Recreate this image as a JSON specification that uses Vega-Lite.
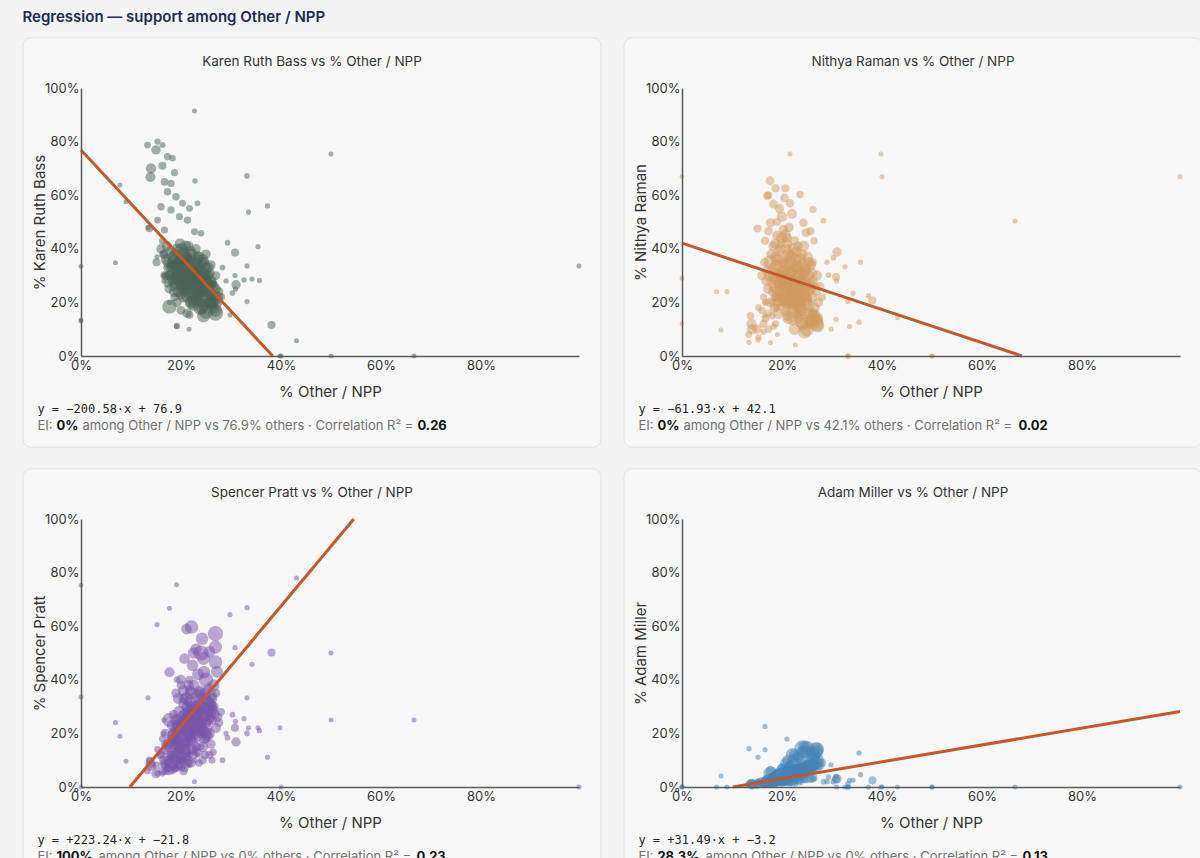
{
  "$schema": "https://vega.github.io/schema/vega-lite/v6.json",
  "background": "#f4f4f4",
  "padding": {"left": 22, "top": 10, "right": 0, "bottom": 0},
  "title": {"text": "Regression — support among Other / NPP", "anchor": "start", "fontSize": 15, "fontWeight": 600, "color": "#1f2b4d", "offset": 12},
  "datasets": {
    "precincts": [
      {"x":0.133,"n":120,"b":0.787,"r":0.08,"p":0.06,"m":0.01},
      {"x":0.153,"n":90,"b":0.80,"r":0.07,"p":0.05,"m":0.008},
      {"x":0.163,"n":80,"b":0.787,"r":0.09,"p":0.05,"m":0.01},
      {"x":0.15,"n":300,"b":0.769,"r":0.1,"p":0.05,"m":0.01},
      {"x":0.173,"n":150,"b":0.744,"r":0.1,"p":0.07,"m":0.012},
      {"x":0.183,"n":110,"b":0.738,"r":0.11,"p":0.06,"m":0.01},
      {"x":0.14,"n":380,"b":0.70,"r":0.1,"p":0.08,"m":0.01},
      {"x":0.139,"n":360,"b":0.668,"r":0.12,"p":0.09,"m":0.012},
      {"x":0.163,"n":200,"b":0.71,"r":0.12,"p":0.06,"m":0.01},
      {"x":0.167,"n":180,"b":0.65,"r":0.14,"p":0.08,"m":0.015},
      {"x":0.18,"n":150,"b":0.644,"r":0.15,"p":0.08,"m":0.012},
      {"x":0.173,"n":170,"b":0.613,"r":0.16,"p":0.09,"m":0.015},
      {"x":0.187,"n":140,"b":0.684,"r":0.12,"p":0.07,"m":0.01},
      {"x":0.19,"n":160,"b":0.594,"r":0.18,"p":0.1,"m":0.02},
      {"x":0.203,"n":130,"b":0.57,"r":0.2,"p":0.1,"m":0.02},
      {"x":0.18,"n":150,"b":0.545,"r":0.2,"p":0.11,"m":0.02},
      {"x":0.217,"n":120,"b":0.551,"r":0.2,"p":0.12,"m":0.02},
      {"x":0.197,"n":140,"b":0.52,"r":0.22,"p":0.12,"m":0.02},
      {"x":0.213,"n":160,"b":0.507,"r":0.22,"p":0.13,"m":0.025},
      {"x":0.167,"n":140,"b":0.47,"r":0.2,"p":0.16,"m":0.02},
      {"x":0.227,"n":130,"b":0.464,"r":0.24,"p":0.14,"m":0.025},
      {"x":0.24,"n":110,"b":0.458,"r":0.25,"p":0.15,"m":0.03},
      {"x":0.153,"n":120,"b":0.507,"r":0.18,"p":0.14,"m":0.02},
      {"x":0.16,"n":150,"b":0.557,"r":0.17,"p":0.12,"m":0.015},
      {"x":0.137,"n":160,"b":0.476,"r":0.15,"p":0.1,"m":0.015},
      {"x":0.163,"n":140,"b":0.43,"r":0.22,"p":0.18,"m":0.02},
      {"x":0.233,"n":60,"b":0.57,"r":0.2,"p":0.12,"m":0.02},
      {"x":0.228,"n":50,"b":0.653,"r":0.15,"p":0.1,"m":0.02},
      {"x":0.176,"n":250,"b":0.25,"r":0.654,"p":0.06,"m":0.015},
      {"x":0.187,"n":220,"b":0.22,"r":0.626,"p":0.07,"m":0.015},
      {"x":0.173,"n":180,"b":0.27,"r":0.60,"p":0.07,"m":0.012},
      {"x":0.207,"n":200,"b":0.24,"r":0.626,"p":0.07,"m":0.02},
      {"x":0.236,"n":160,"b":0.2,"r":0.603,"p":0.09,"m":0.02},
      {"x":0.17,"n":190,"b":0.3,"r":0.597,"p":0.06,"m":0.015},
      {"x":0.183,"n":260,"b":0.28,"r":0.567,"p":0.08,"m":0.02},
      {"x":0.216,"n":230,"b":0.26,"r":0.57,"p":0.09,"m":0.02},
      {"x":0.262,"n":140,"b":0.22,"r":0.547,"p":0.1,"m":0.03},
      {"x":0.151,"n":200,"b":0.35,"r":0.476,"p":0.08,"m":0.015},
      {"x":0.177,"n":280,"b":0.3,"r":0.497,"p":0.09,"m":0.02},
      {"x":0.203,"n":300,"b":0.3,"r":0.472,"p":0.1,"m":0.02},
      {"x":0.243,"n":240,"b":0.28,"r":0.497,"p":0.1,"m":0.03},
      {"x":0.257,"n":200,"b":0.26,"r":0.466,"p":0.12,"m":0.03},
      {"x":0.173,"n":240,"b":0.33,"r":0.466,"p":0.1,"m":0.02},
      {"x":0.264,"n":150,"b":0.27,"r":0.43,"p":0.13,"m":0.035},
      {"x":0.19,"n":320,"b":0.32,"r":0.45,"p":0.1,"m":0.025},
      {"x":0.21,"n":350,"b":0.34,"r":0.44,"p":0.11,"m":0.025},
      {"x":0.225,"n":280,"b":0.3,"r":0.43,"p":0.12,"m":0.03},
      {"x":0.198,"n":260,"b":0.36,"r":0.42,"p":0.1,"m":0.02},
      {"x":0.182,"n":300,"b":0.34,"r":0.41,"p":0.12,"m":0.02},
      {"x":0.232,"n":300,"b":0.32,"r":0.41,"p":0.13,"m":0.03},
      {"x":0.2,"n":380,"b":0.35,"r":0.52,"p":0.08,"m":0.02},
      {"x":0.22,"n":330,"b":0.31,"r":0.53,"p":0.09,"m":0.02},
      {"x":0.195,"n":290,"b":0.29,"r":0.55,"p":0.08,"m":0.02},
      {"x":0.166,"n":230,"b":0.38,"r":0.43,"p":0.09,"m":0.015},
      {"x":0.248,"n":260,"b":0.29,"r":0.46,"p":0.12,"m":0.03},
      {"x":0.214,"n":310,"b":0.36,"r":0.48,"p":0.1,"m":0.02},
      {"x":0.19,"n":200,"b":0.38,"r":0.5,"p":0.07,"m":0.02},
      {"x":0.205,"n":240,"b":0.27,"r":0.59,"p":0.06,"m":0.02},
      {"x":0.269,"n":900,"b":0.16,"r":0.12,"p":0.572,"m":0.14},
      {"x":0.242,"n":600,"b":0.18,"r":0.12,"p":0.553,"m":0.13},
      {"x":0.221,"n":700,"b":0.2,"r":0.14,"p":0.597,"m":0.12},
      {"x":0.211,"n":400,"b":0.22,"r":0.15,"p":0.59,"m":0.1},
      {"x":0.269,"n":650,"b":0.17,"r":0.13,"p":0.522,"m":0.13},
      {"x":0.257,"n":500,"b":0.2,"r":0.13,"p":0.504,"m":0.12},
      {"x":0.23,"n":450,"b":0.21,"r":0.16,"p":0.515,"m":0.11},
      {"x":0.207,"n":400,"b":0.24,"r":0.17,"p":0.479,"m":0.09},
      {"x":0.223,"n":500,"b":0.22,"r":0.18,"p":0.454,"m":0.1},
      {"x":0.246,"n":600,"b":0.19,"r":0.16,"p":0.428,"m":0.13},
      {"x":0.265,"n":550,"b":0.18,"r":0.15,"p":0.379,"m":0.12},
      {"x":0.269,"n":700,"b":0.2,"r":0.14,"p":0.466,"m":0.14},
      {"x":0.177,"n":350,"b":0.3,"r":0.2,"p":0.428,"m":0.06},
      {"x":0.238,"n":450,"b":0.24,"r":0.2,"p":0.358,"m":0.09},
      {"x":0.25,"n":800,"b":0.165,"r":0.1,"p":0.4,"m":0.145},
      {"x":0.26,"n":500,"b":0.2,"r":0.12,"p":0.34,"m":0.13},
      {"x":0.215,"n":400,"b":0.25,"r":0.22,"p":0.38,"m":0.08},
      {"x":0.2,"n":350,"b":0.27,"r":0.2,"p":0.4,"m":0.07},
      {"x":0.19,"n":300,"b":0.3,"r":0.22,"p":0.35,"m":0.05},
      {"x":0.234,"n":520,"b":0.23,"r":0.18,"p":0.42,"m":0.11},
      {"x":0.225,"n":480,"b":0.19,"r":0.1,"p":0.5,"m":0.12},
      {"x":0.245,"n":650,"b":0.15,"r":0.09,"p":0.48,"m":0.15},
      {"x":0.272,"n":550,"b":0.22,"r":0.11,"p":0.43,"m":0.1},
      {"x":0.205,"n":380,"b":0.28,"r":0.24,"p":0.33,"m":0.06},
      {"x":0.218,"n":420,"b":0.26,"r":0.2,"p":0.36,"m":0.08},
      {"x":0.255,"n":300,"b":0.24,"r":0.12,"p":0.37,"m":0.1},
      {"x":0.24,"n":900,"b":0.18,"r":0.13,"p":0.5,"m":0.145},
      {"x":0.262,"n":350,"b":0.2,"r":0.16,"p":0.3,"m":0.11},
      {"x":0.16,"n":300,"b":0.40,"r":0.3,"p":0.12,"m":0.02},
      {"x":0.165,"n":250,"b":0.38,"r":0.35,"p":0.1,"m":0.02},
      {"x":0.17,"n":400,"b":0.36,"r":0.32,"p":0.14,"m":0.025},
      {"x":0.172,"n":350,"b":0.41,"r":0.25,"p":0.15,"m":0.02},
      {"x":0.175,"n":500,"b":0.35,"r":0.3,"p":0.16,"m":0.03},
      {"x":0.178,"n":300,"b":0.33,"r":0.38,"p":0.12,"m":0.025},
      {"x":0.18,"n":450,"b":0.39,"r":0.28,"p":0.17,"m":0.03},
      {"x":0.182,"n":350,"b":0.31,"r":0.33,"p":0.18,"m":0.03},
      {"x":0.185,"n":600,"b":0.37,"r":0.26,"p":0.19,"m":0.035},
      {"x":0.187,"n":300,"b":0.34,"r":0.22,"p":0.21,"m":0.03},
      {"x":0.19,"n":500,"b":0.3,"r":0.36,"p":0.15,"m":0.03},
      {"x":0.192,"n":400,"b":0.4,"r":0.2,"p":0.2,"m":0.035},
      {"x":0.195,"n":700,"b":0.33,"r":0.3,"p":0.22,"m":0.04},
      {"x":0.197,"n":350,"b":0.28,"r":0.4,"p":0.14,"m":0.03},
      {"x":0.2,"n":600,"b":0.36,"r":0.25,"p":0.2,"m":0.04},
      {"x":0.2,"n":450,"b":0.3,"r":0.32,"p":0.24,"m":0.04},
      {"x":0.202,"n":500,"b":0.26,"r":0.35,"p":0.19,"m":0.035},
      {"x":0.205,"n":800,"b":0.34,"r":0.28,"p":0.23,"m":0.045},
      {"x":0.207,"n":400,"b":0.39,"r":0.22,"p":0.25,"m":0.04},
      {"x":0.208,"n":550,"b":0.29,"r":0.3,"p":0.27,"m":0.05},
      {"x":0.21,"n":650,"b":0.32,"r":0.34,"p":0.18,"m":0.04},
      {"x":0.212,"n":400,"b":0.37,"r":0.18,"p":0.3,"m":0.045},
      {"x":0.213,"n":500,"b":0.25,"r":0.38,"p":0.21,"m":0.04},
      {"x":0.215,"n":700,"b":0.31,"r":0.26,"p":0.26,"m":0.05},
      {"x":0.217,"n":450,"b":0.35,"r":0.31,"p":0.2,"m":0.04},
      {"x":0.218,"n":600,"b":0.28,"r":0.24,"p":0.32,"m":0.055},
      {"x":0.22,"n":500,"b":0.33,"r":0.2,"p":0.29,"m":0.05},
      {"x":0.22,"n":750,"b":0.3,"r":0.28,"p":0.24,"m":0.05},
      {"x":0.222,"n":400,"b":0.38,"r":0.25,"p":0.22,"m":0.045},
      {"x":0.224,"n":550,"b":0.27,"r":0.33,"p":0.25,"m":0.05},
      {"x":0.225,"n":650,"b":0.34,"r":0.22,"p":0.3,"m":0.055},
      {"x":0.227,"n":450,"b":0.24,"r":0.3,"p":0.28,"m":0.06},
      {"x":0.228,"n":500,"b":0.31,"r":0.36,"p":0.2,"m":0.045},
      {"x":0.23,"n":700,"b":0.29,"r":0.26,"p":0.27,"m":0.06},
      {"x":0.232,"n":400,"b":0.36,"r":0.2,"p":0.26,"m":0.05},
      {"x":0.233,"n":550,"b":0.26,"r":0.24,"p":0.34,"m":0.065},
      {"x":0.235,"n":600,"b":0.32,"r":0.3,"p":0.23,"m":0.055},
      {"x":0.237,"n":450,"b":0.23,"r":0.28,"p":0.31,"m":0.065},
      {"x":0.238,"n":500,"b":0.3,"r":0.18,"p":0.35,"m":0.07},
      {"x":0.24,"n":650,"b":0.28,"r":0.34,"p":0.22,"m":0.06},
      {"x":0.242,"n":400,"b":0.35,"r":0.25,"p":0.24,"m":0.06},
      {"x":0.243,"n":550,"b":0.25,"r":0.22,"p":0.3,"m":0.07},
      {"x":0.245,"n":500,"b":0.31,"r":0.28,"p":0.26,"m":0.065},
      {"x":0.247,"n":450,"b":0.22,"r":0.32,"p":0.29,"m":0.07},
      {"x":0.248,"n":600,"b":0.29,"r":0.2,"p":0.33,"m":0.075},
      {"x":0.25,"n":400,"b":0.33,"r":0.26,"p":0.24,"m":0.065},
      {"x":0.252,"n":550,"b":0.24,"r":0.3,"p":0.27,"m":0.075},
      {"x":0.254,"n":450,"b":0.3,"r":0.16,"p":0.32,"m":0.08},
      {"x":0.256,"n":500,"b":0.26,"r":0.25,"p":0.3,"m":0.075},
      {"x":0.258,"n":400,"b":0.21,"r":0.34,"p":0.26,"m":0.07},
      {"x":0.26,"n":450,"b":0.28,"r":0.22,"p":0.28,"m":0.08},
      {"x":0.262,"n":350,"b":0.23,"r":0.28,"p":0.25,"m":0.08},
      {"x":0.265,"n":400,"b":0.26,"r":0.18,"p":0.3,"m":0.085},
      {"x":0.268,"n":300,"b":0.22,"r":0.24,"p":0.27,"m":0.08},
      {"x":0.27,"n":350,"b":0.25,"r":0.3,"p":0.22,"m":0.075},
      {"x":0.273,"n":300,"b":0.21,"r":0.2,"p":0.26,"m":0.09},
      {"x":0.276,"n":250,"b":0.24,"r":0.26,"p":0.24,"m":0.08},
      {"x":0.28,"n":200,"b":0.22,"r":0.22,"p":0.28,"m":0.09},
      {"x":0.177,"n":800,"b":0.184,"r":0.35,"p":0.25,"m":0.05},
      {"x":0.192,"n":300,"b":0.2,"r":0.27,"p":0.13,"m":0.03},
      {"x":0.186,"n":350,"b":0.26,"r":0.42,"p":0.11,"m":0.025},
      {"x":0.198,"n":400,"b":0.42,"r":0.3,"p":0.12,"m":0.03},
      {"x":0.215,"n":350,"b":0.41,"r":0.24,"p":0.17,"m":0.035},
      {"x":0.23,"n":300,"b":0.4,"r":0.28,"p":0.15,"m":0.04},
      {"x":0.25,"n":300,"b":0.38,"r":0.22,"p":0.18,"m":0.05},
      {"x":0.205,"n":450,"b":0.22,"r":0.26,"p":0.36,"m":0.06},
      {"x":0.22,"n":400,"b":0.2,"r":0.32,"p":0.3,"m":0.06},
      {"x":0.195,"n":450,"b":0.24,"r":0.22,"p":0.33,"m":0.05},
      {"x":0.21,"n":350,"b":0.28,"r":0.42,"p":0.16,"m":0.035},
      {"x":0.24,"n":350,"b":0.2,"r":0.38,"p":0.2,"m":0.06},
      {"x":0.168,"n":300,"b":0.3,"r":0.28,"p":0.2,"m":0.025},
      {"x":0.185,"n":300,"b":0.29,"r":0.18,"p":0.27,"m":0.04},
      {"x":0.26,"n":300,"b":0.34,"r":0.35,"p":0.16,"m":0.06},
      {"x":0.27,"n":250,"b":0.3,"r":0.14,"p":0.35,"m":0.1},
      {"x":0.2,"n":250,"b":0.17,"r":0.3,"p":0.38,"m":0.07},
      {"x":0.212,"n":300,"b":0.16,"r":0.4,"p":0.28,"m":0.06},
      {"x":0.192,"n":100,"b":0.112,"r":0.3,"p":0.4,"m":0.06},
      {"x":0.217,"n":200,"b":0.154,"r":0.25,"p":0.4,"m":0.08},
      {"x":0.196,"n":500,"b":0.31,"r":0.27,"p":0.17,"m":0.035},
      {"x":0.204,"n":550,"b":0.38,"r":0.34,"p":0.16,"m":0.04},
      {"x":0.211,"n":600,"b":0.27,"r":0.29,"p":0.23,"m":0.05},
      {"x":0.219,"n":500,"b":0.35,"r":0.37,"p":0.18,"m":0.045},
      {"x":0.226,"n":550,"b":0.29,"r":0.23,"p":0.21,"m":0.055},
      {"x":0.231,"n":600,"b":0.33,"r":0.33,"p":0.19,"m":0.05},
      {"x":0.239,"n":500,"b":0.27,"r":0.27,"p":0.25,"m":0.06},
      {"x":0.244,"n":450,"b":0.36,"r":0.31,"p":0.21,"m":0.055},
      {"x":0.251,"n":500,"b":0.3,"r":0.24,"p":0.2,"m":0.07},
      {"x":0.183,"n":450,"b":0.35,"r":0.24,"p":0.23,"m":0.035},
      {"x":0.189,"n":400,"b":0.27,"r":0.31,"p":0.18,"m":0.035},
      {"x":0.209,"n":450,"b":0.41,"r":0.27,"p":0.14,"m":0.04},
      {"x":0.229,"n":400,"b":0.22,"r":0.39,"p":0.22,"m":0.055},
      {"x":0.236,"n":450,"b":0.37,"r":0.21,"p":0.28,"m":0.06},
      {"x":0.253,"n":400,"b":0.27,"r":0.35,"p":0.19,"m":0.07},
      {"x":0.185,"n":500,"b":0.33,"r":0.29,"p":0.2,"m":0.03},
      {"x":0.188,"n":450,"b":0.38,"r":0.34,"p":0.13,"m":0.03},
      {"x":0.191,"n":550,"b":0.29,"r":0.24,"p":0.25,"m":0.04},
      {"x":0.194,"n":400,"b":0.35,"r":0.39,"p":0.16,"m":0.03},
      {"x":0.197,"n":600,"b":0.32,"r":0.21,"p":0.28,"m":0.045},
      {"x":0.199,"n":450,"b":0.27,"r":0.44,"p":0.15,"m":0.035},
      {"x":0.201,"n":500,"b":0.4,"r":0.26,"p":0.22,"m":0.04},
      {"x":0.203,"n":650,"b":0.31,"r":0.31,"p":0.26,"m":0.045},
      {"x":0.206,"n":500,"b":0.25,"r":0.23,"p":0.31,"m":0.05},
      {"x":0.209,"n":450,"b":0.36,"r":0.37,"p":0.13,"m":0.035},
      {"x":0.211,"n":600,"b":0.3,"r":0.2,"p":0.33,"m":0.055},
      {"x":0.214,"n":500,"b":0.34,"r":0.29,"p":0.24,"m":0.05},
      {"x":0.216,"n":550,"b":0.24,"r":0.35,"p":0.27,"m":0.05},
      {"x":0.219,"n":450,"b":0.39,"r":0.21,"p":0.19,"m":0.045},
      {"x":0.221,"n":600,"b":0.28,"r":0.27,"p":0.35,"m":0.06},
      {"x":0.223,"n":500,"b":0.32,"r":0.4,"p":0.17,"m":0.045},
      {"x":0.226,"n":450,"b":0.26,"r":0.19,"p":0.38,"m":0.065},
      {"x":0.228,"n":600,"b":0.35,"r":0.26,"p":0.23,"m":0.055},
      {"x":0.231,"n":500,"b":0.23,"r":0.32,"p":0.3,"m":0.06},
      {"x":0.233,"n":450,"b":0.3,"r":0.23,"p":0.29,"m":0.065},
      {"x":0.236,"n":550,"b":0.27,"r":0.36,"p":0.21,"m":0.06},
      {"x":0.238,"n":500,"b":0.33,"r":0.17,"p":0.3,"m":0.07},
      {"x":0.241,"n":450,"b":0.24,"r":0.29,"p":0.33,"m":0.07},
      {"x":0.244,"n":600,"b":0.29,"r":0.23,"p":0.27,"m":0.07},
      {"x":0.246,"n":400,"b":0.35,"r":0.33,"p":0.18,"m":0.06},
      {"x":0.249,"n":500,"b":0.22,"r":0.21,"p":0.35,"m":0.08},
      {"x":0.251,"n":450,"b":0.28,"r":0.37,"p":0.22,"m":0.07},
      {"x":0.254,"n":500,"b":0.25,"r":0.19,"p":0.29,"m":0.085},
      {"x":0.257,"n":400,"b":0.31,"r":0.27,"p":0.2,"m":0.075},
      {"x":0.259,"n":450,"b":0.23,"r":0.31,"p":0.31,"m":0.08},
      {"x":0.262,"n":400,"b":0.27,"r":0.15,"p":0.33,"m":0.09},
      {"x":0.264,"n":350,"b":0.2,"r":0.26,"p":0.29,"m":0.085},
      {"x":0.182,"n":400,"b":0.28,"r":0.3,"p":0.11,"m":0.025},
      {"x":0.187,"n":450,"b":0.24,"r":0.37,"p":0.16,"m":0.03},
      {"x":0.193,"n":500,"b":0.34,"r":0.16,"p":0.23,"m":0.035},
      {"x":0.199,"n":400,"b":0.23,"r":0.29,"p":0.09,"m":0.03},
      {"x":0.207,"n":450,"b":0.29,"r":0.45,"p":0.12,"m":0.03},
      {"x":0.213,"n":500,"b":0.36,"r":0.14,"p":0.2,"m":0.05},
      {"x":0.224,"n":450,"b":0.21,"r":0.24,"p":0.14,"m":0.045},
      {"x":0.234,"n":400,"b":0.37,"r":0.14,"p":0.24,"m":0.06},
      {"x":0.243,"n":450,"b":0.26,"r":0.41,"p":0.15,"m":0.05},
      {"x":0.255,"n":400,"b":0.33,"r":0.13,"p":0.25,"m":0.08},
      {"x":0,"n":30,"b":0.335,"r":0.29,"p":0.336,"m":0},
      {"x":0,"n":25,"b":0.135,"r":0.67,"p":0,"m":0},
      {"x":0,"n":25,"b":0.13,"r":0.12,"p":0.753,"m":0},
      {"x":0.069,"n":30,"b":0.348,"r":0.24,"p":0.241,"m":0},
      {"x":0.078,"n":30,"b":0.638,"r":0.097,"p":0.189,"m":0.041},
      {"x":0.09,"n":30,"b":0.576,"r":0.24,"p":0.096,"m":0},
      {"x":0.134,"n":40,"b":0.479,"r":0.051,"p":0.333,"m":0.143},
      {"x":0.152,"n":40,"b":0.37,"r":0.06,"p":0.606,"m":0.111},
      {"x":0.227,"n":30,"b":0.914,"r":0.041,"p":0.02,"m":0.01},
      {"x":0.216,"n":30,"b":0.1,"r":0.754,"p":0.08,"m":0.03},
      {"x":0.191,"n":30,"b":0.11,"r":0.08,"p":0.755,"m":0.02},
      {"x":0.177,"n":35,"b":0.2,"r":0.05,"p":0.667,"m":0.03},
      {"x":0.166,"n":40,"b":0.3,"r":0.15,"p":0.2,"m":0.226},
      {"x":0.21,"n":40,"b":0.35,"r":0.2,"p":0.15,"m":0.179},
      {"x":0.166,"n":40,"b":0.28,"r":0.2,"p":0.25,"m":0.139},
      {"x":0.293,"n":60,"b":0.423,"r":0.302,"p":0.184,"m":0.037},
      {"x":0.308,"n":200,"b":0.386,"r":0.295,"p":0.221,"m":0.03},
      {"x":0.31,"n":300,"b":0.266,"r":0.388,"p":0.168,"m":0.03},
      {"x":0.303,"n":60,"b":0.235,"r":0.367,"p":0.27,"m":0.02},
      {"x":0.298,"n":40,"b":0.153,"r":0.1,"p":0.643,"m":0.083},
      {"x":0.283,"n":60,"b":0.33,"r":0.505,"p":0.1,"m":0.02},
      {"x":0.309,"n":40,"b":0.25,"r":0.28,"p":0.245,"m":0},
      {"x":0.308,"n":40,"b":0.3,"r":0.137,"p":0.52,"m":0.04},
      {"x":0.29,"n":40,"b":0.28,"r":0.35,"p":0.2,"m":0.02},
      {"x":0.332,"n":60,"b":0.672,"r":0,"p":0.2,"m":0.012},
      {"x":0.335,"n":40,"b":0.537,"r":0.11,"p":0.221,"m":0.025},
      {"x":0.354,"n":40,"b":0.408,"r":0.126,"p":0.221,"m":0.127},
      {"x":0.332,"n":40,"b":0.336,"r":0.203,"p":0.333,"m":0},
      {"x":0.326,"n":40,"b":0.284,"r":0.333,"p":0.255,"m":0},
      {"x":0.342,"n":40,"b":0.287,"r":0.234,"p":0.458,"m":0.025},
      {"x":0.357,"n":40,"b":0.282,"r":0.35,"p":0.21,"m":0.046},
      {"x":0.332,"n":40,"b":0.203,"r":0,"p":0.669,"m":0},
      {"x":0.373,"n":40,"b":0.56,"r":0.225,"p":0.111,"m":0},
      {"x":0.381,"n":200,"b":0.116,"r":0.208,"p":0.502,"m":0.025},
      {"x":0.398,"n":30,"b":0,"r":0.754,"p":0.221,"m":0},
      {"x":0.4,"n":30,"b":0,"r":0.669,"p":0,"m":0},
      {"x":0.431,"n":30,"b":0.057,"r":0.143,"p":0.78,"m":0},
      {"x":0.5,"n":30,"b":0.754,"r":0,"p":0.25,"m":0},
      {"x":0.5,"n":30,"b":0,"r":0,"p":0.5,"m":0},
      {"x":0.666,"n":30,"b":0,"r":0.504,"p":0.25,"m":0},
      {"x":0.996,"n":30,"b":0.336,"r":0.669,"p":0,"m":0}
    ],
    "lines": [
      {"c":"b","x1":0,"y1":0.769,"x2":0.3834,"y2":0},
      {"c":"r","x1":0,"y1":0.421,"x2":0.6798,"y2":0},
      {"c":"p","x1":0.0977,"y1":0,"x2":0.5456,"y2":1},
      {"c":"m","x1":0.1016,"y1":0,"x2":0.996,"y2":0.2816}
    ],
    "notes": [
      {"c":"b","title":"Karen Ruth Bass vs % Other / NPP","eq":"y = −200.58·x + 76.9","ei":"0%","mid":"among Other / NPP vs 76.9% others · Correlation R² =","r2":"0.26"},
      {"c":"r","title":"Nithya Raman vs % Other / NPP","eq":"y = −61.93·x + 42.1","ei":"0%","mid":"among Other / NPP vs 42.1% others · Correlation R² =","r2":"0.02"},
      {"c":"p","title":"Spencer Pratt vs % Other / NPP","eq":"y = +223.24·x + −21.8","ei":"100%","mid":"among Other / NPP vs 0% others · Correlation R² =","r2":"0.23"},
      {"c":"m","title":"Adam Miller vs % Other / NPP","eq":"y = +31.49·x + −3.2","ei":"28.3%","mid":"among Other / NPP vs 0% others · Correlation R² =","r2":"0.13"}
    ]
  },
  "data": {"name": "precincts"},
  "columns": 2,
  "spacing": {"row": 20, "column": 21},
  "concat": [
    {
      "width": 498, "height": 268,
      "layer": [
        {"data": {"name": "notes"}, "transform": [{"filter": "datum.c == 'b'"}],
         "mark": {"type": "rect", "fill": "#f8f8f8", "stroke": "#e1e1e1", "cornerRadius": 8},
         "encoding": {
           "x": {"datum": -0.116, "type": "quantitative", "scale": {"domain": [0, 0.996], "nice": false}},
           "x2": {"datum": 1.04},
           "y": {"datum": 1.187, "type": "quantitative", "scale": {"domain": [0, 1], "nice": false}},
           "y2": {"datum": -0.34}}},
        {"mark": {"type": "circle", "color": "#4a6456", "opacity": 0.5},
         "encoding": {
           "x": {"field": "x", "type": "quantitative", "scale": {"domain": [0, 0.996], "nice": false}, "axis": {"title": "% Other / NPP", "values": [0, 0.2, 0.4, 0.6, 0.8], "format": ".0%", "zindex": 1}},
           "y": {"field": "b", "type": "quantitative", "scale": {"domain": [0, 1], "nice": false}, "axis": {"title": "% Karen Ruth Bass", "values": [0, 0.2, 0.4, 0.6, 0.8, 1], "format": ".0%", "zindex": 1}},
           "size": {"field": "n", "type": "quantitative", "scale": {"domain": [0, 900], "range": [18, 230]}, "legend": null}}},
        {"data": {"name": "lines"}, "transform": [{"filter": "datum.c == 'b'"}],
         "mark": {"type": "rule", "color": "#c4582a", "strokeWidth": 3},
         "encoding": {
           "x": {"field": "x1", "type": "quantitative"}, "x2": {"field": "x2"},
           "y": {"field": "y1", "type": "quantitative"}, "y2": {"field": "y2"}}},
        {"data": {"name": "notes"}, "transform": [{"filter": "datum.c == 'b'"}],
         "layer": [
           {"mark": {"type": "text", "fontSize": 13.5, "color": "#333", "align": "center", "baseline": "middle"},
            "encoding": {"x": {"datum": 0.462, "type": "quantitative"}, "y": {"datum": 1.097, "type": "quantitative"}, "text": {"field": "title"}}},
           {"mark": {"type": "text", "font": "DejaVu Sans Mono", "fontSize": 12, "color": "#222", "align": "left", "baseline": "middle"},
            "encoding": {"x": {"datum": -0.0872, "type": "quantitative"}, "y": {"datum": -0.198, "type": "quantitative"}, "text": {"field": "eq"}}},
           {"mark": {"type": "text", "fontSize": 13, "color": "#707070", "align": "left", "baseline": "middle"},
            "encoding": {"x": {"datum": -0.0872, "type": "quantitative"}, "y": {"datum": -0.263, "type": "quantitative"}, "text": {"value": "EI:"}}},
           {"mark": {"type": "text", "fontSize": 13, "fontWeight": "bold", "color": "#111", "align": "left", "baseline": "middle", "dx": 19},
            "encoding": {"x": {"datum": -0.0872, "type": "quantitative"}, "y": {"datum": -0.263, "type": "quantitative"}, "text": {"field": "ei"}}},
           {"mark": {"type": "text", "fontSize": 13, "color": "#707070", "align": "left", "baseline": "middle", "dx": 45},
            "encoding": {"x": {"datum": -0.0872, "type": "quantitative"}, "y": {"datum": -0.263, "type": "quantitative"}, "text": {"field": "mid"}}},
           {"mark": {"type": "text", "fontSize": 13, "fontWeight": "bold", "color": "#111", "align": "left", "baseline": "middle", "dx": 380},
            "encoding": {"x": {"datum": -0.0872, "type": "quantitative"}, "y": {"datum": -0.263, "type": "quantitative"}, "text": {"field": "r2"}}}
         ]}
      ]
    },
    {
      "width": 498, "height": 268,
      "layer": [
        {"data": {"name": "notes"}, "transform": [{"filter": "datum.c == 'r'"}],
         "mark": {"type": "rect", "fill": "#f8f8f8", "stroke": "#e1e1e1", "cornerRadius": 8},
         "encoding": {
           "x": {"datum": -0.116, "type": "quantitative", "scale": {"domain": [0, 0.996], "nice": false}},
           "x2": {"datum": 1.04},
           "y": {"datum": 1.187, "type": "quantitative", "scale": {"domain": [0, 1], "nice": false}},
           "y2": {"datum": -0.34}}},
        {"mark": {"type": "circle", "color": "#cf9a60", "opacity": 0.5},
         "encoding": {
           "x": {"field": "x", "type": "quantitative", "scale": {"domain": [0, 0.996], "nice": false}, "axis": {"title": "% Other / NPP", "values": [0, 0.2, 0.4, 0.6, 0.8], "format": ".0%", "zindex": 1}},
           "y": {"field": "r", "type": "quantitative", "scale": {"domain": [0, 1], "nice": false}, "axis": {"title": "% Nithya Raman", "values": [0, 0.2, 0.4, 0.6, 0.8, 1], "format": ".0%", "zindex": 1}},
           "size": {"field": "n", "type": "quantitative", "scale": {"domain": [0, 900], "range": [18, 230]}, "legend": null}}},
        {"data": {"name": "lines"}, "transform": [{"filter": "datum.c == 'r'"}],
         "mark": {"type": "rule", "color": "#c4582a", "strokeWidth": 3},
         "encoding": {
           "x": {"field": "x1", "type": "quantitative"}, "x2": {"field": "x2"},
           "y": {"field": "y1", "type": "quantitative"}, "y2": {"field": "y2"}}},
        {"data": {"name": "notes"}, "transform": [{"filter": "datum.c == 'r'"}],
         "layer": [
           {"mark": {"type": "text", "fontSize": 13.5, "color": "#333", "align": "center", "baseline": "middle"},
            "encoding": {"x": {"datum": 0.462, "type": "quantitative"}, "y": {"datum": 1.097, "type": "quantitative"}, "text": {"field": "title"}}},
           {"mark": {"type": "text", "font": "DejaVu Sans Mono", "fontSize": 12, "color": "#222", "align": "left", "baseline": "middle"},
            "encoding": {"x": {"datum": -0.0872, "type": "quantitative"}, "y": {"datum": -0.198, "type": "quantitative"}, "text": {"field": "eq"}}},
           {"mark": {"type": "text", "fontSize": 13, "color": "#707070", "align": "left", "baseline": "middle"},
            "encoding": {"x": {"datum": -0.0872, "type": "quantitative"}, "y": {"datum": -0.263, "type": "quantitative"}, "text": {"value": "EI:"}}},
           {"mark": {"type": "text", "fontSize": 13, "fontWeight": "bold", "color": "#111", "align": "left", "baseline": "middle", "dx": 19},
            "encoding": {"x": {"datum": -0.0872, "type": "quantitative"}, "y": {"datum": -0.263, "type": "quantitative"}, "text": {"field": "ei"}}},
           {"mark": {"type": "text", "fontSize": 13, "color": "#707070", "align": "left", "baseline": "middle", "dx": 45},
            "encoding": {"x": {"datum": -0.0872, "type": "quantitative"}, "y": {"datum": -0.263, "type": "quantitative"}, "text": {"field": "mid"}}},
           {"mark": {"type": "text", "fontSize": 13, "fontWeight": "bold", "color": "#111", "align": "left", "baseline": "middle", "dx": 380},
            "encoding": {"x": {"datum": -0.0872, "type": "quantitative"}, "y": {"datum": -0.263, "type": "quantitative"}, "text": {"field": "r2"}}}
         ]}
      ]
    },
    {
      "width": 498, "height": 268,
      "layer": [
        {"data": {"name": "notes"}, "transform": [{"filter": "datum.c == 'p'"}],
         "mark": {"type": "rect", "fill": "#f8f8f8", "stroke": "#e1e1e1", "cornerRadius": 8},
         "encoding": {
           "x": {"datum": -0.116, "type": "quantitative", "scale": {"domain": [0, 0.996], "nice": false}},
           "x2": {"datum": 1.04},
           "y": {"datum": 1.187, "type": "quantitative", "scale": {"domain": [0, 1], "nice": false}},
           "y2": {"datum": -0.34}}},
        {"mark": {"type": "circle", "color": "#7654a8", "opacity": 0.5},
         "encoding": {
           "x": {"field": "x", "type": "quantitative", "scale": {"domain": [0, 0.996], "nice": false}, "axis": {"title": "% Other / NPP", "values": [0, 0.2, 0.4, 0.6, 0.8], "format": ".0%", "zindex": 1}},
           "y": {"field": "p", "type": "quantitative", "scale": {"domain": [0, 1], "nice": false}, "axis": {"title": "% Spencer Pratt", "values": [0, 0.2, 0.4, 0.6, 0.8, 1], "format": ".0%", "zindex": 1}},
           "size": {"field": "n", "type": "quantitative", "scale": {"domain": [0, 900], "range": [18, 230]}, "legend": null}}},
        {"data": {"name": "lines"}, "transform": [{"filter": "datum.c == 'p'"}],
         "mark": {"type": "rule", "color": "#c4582a", "strokeWidth": 3},
         "encoding": {
           "x": {"field": "x1", "type": "quantitative"}, "x2": {"field": "x2"},
           "y": {"field": "y1", "type": "quantitative"}, "y2": {"field": "y2"}}},
        {"data": {"name": "notes"}, "transform": [{"filter": "datum.c == 'p'"}],
         "layer": [
           {"mark": {"type": "text", "fontSize": 13.5, "color": "#333", "align": "center", "baseline": "middle"},
            "encoding": {"x": {"datum": 0.462, "type": "quantitative"}, "y": {"datum": 1.097, "type": "quantitative"}, "text": {"field": "title"}}},
           {"mark": {"type": "text", "font": "DejaVu Sans Mono", "fontSize": 12, "color": "#222", "align": "left", "baseline": "middle"},
            "encoding": {"x": {"datum": -0.0872, "type": "quantitative"}, "y": {"datum": -0.198, "type": "quantitative"}, "text": {"field": "eq"}}},
           {"mark": {"type": "text", "fontSize": 13, "color": "#707070", "align": "left", "baseline": "middle"},
            "encoding": {"x": {"datum": -0.0872, "type": "quantitative"}, "y": {"datum": -0.263, "type": "quantitative"}, "text": {"value": "EI:"}}},
           {"mark": {"type": "text", "fontSize": 13, "fontWeight": "bold", "color": "#111", "align": "left", "baseline": "middle", "dx": 19},
            "encoding": {"x": {"datum": -0.0872, "type": "quantitative"}, "y": {"datum": -0.263, "type": "quantitative"}, "text": {"field": "ei"}}},
           {"mark": {"type": "text", "fontSize": 13, "color": "#707070", "align": "left", "baseline": "middle", "dx": 61},
            "encoding": {"x": {"datum": -0.0872, "type": "quantitative"}, "y": {"datum": -0.263, "type": "quantitative"}, "text": {"field": "mid"}}},
           {"mark": {"type": "text", "fontSize": 13, "fontWeight": "bold", "color": "#111", "align": "left", "baseline": "middle", "dx": 379},
            "encoding": {"x": {"datum": -0.0872, "type": "quantitative"}, "y": {"datum": -0.263, "type": "quantitative"}, "text": {"field": "r2"}}}
         ]}
      ]
    },
    {
      "width": 498, "height": 268,
      "layer": [
        {"data": {"name": "notes"}, "transform": [{"filter": "datum.c == 'm'"}],
         "mark": {"type": "rect", "fill": "#f8f8f8", "stroke": "#e1e1e1", "cornerRadius": 8},
         "encoding": {
           "x": {"datum": -0.116, "type": "quantitative", "scale": {"domain": [0, 0.996], "nice": false}},
           "x2": {"datum": 1.04},
           "y": {"datum": 1.187, "type": "quantitative", "scale": {"domain": [0, 1], "nice": false}},
           "y2": {"datum": -0.34}}},
        {"mark": {"type": "circle", "color": "#4683b5", "opacity": 0.5},
         "encoding": {
           "x": {"field": "x", "type": "quantitative", "scale": {"domain": [0, 0.996], "nice": false}, "axis": {"title": "% Other / NPP", "values": [0, 0.2, 0.4, 0.6, 0.8], "format": ".0%", "zindex": 1}},
           "y": {"field": "m", "type": "quantitative", "scale": {"domain": [0, 1], "nice": false}, "axis": {"title": "% Adam Miller", "values": [0, 0.2, 0.4, 0.6, 0.8, 1], "format": ".0%", "zindex": 1}},
           "size": {"field": "n", "type": "quantitative", "scale": {"domain": [0, 900], "range": [18, 230]}, "legend": null}}},
        {"data": {"name": "lines"}, "transform": [{"filter": "datum.c == 'm'"}],
         "mark": {"type": "rule", "color": "#c4582a", "strokeWidth": 3},
         "encoding": {
           "x": {"field": "x1", "type": "quantitative"}, "x2": {"field": "x2"},
           "y": {"field": "y1", "type": "quantitative"}, "y2": {"field": "y2"}}},
        {"data": {"name": "notes"}, "transform": [{"filter": "datum.c == 'm'"}],
         "layer": [
           {"mark": {"type": "text", "fontSize": 13.5, "color": "#333", "align": "center", "baseline": "middle"},
            "encoding": {"x": {"datum": 0.462, "type": "quantitative"}, "y": {"datum": 1.097, "type": "quantitative"}, "text": {"field": "title"}}},
           {"mark": {"type": "text", "font": "DejaVu Sans Mono", "fontSize": 12, "color": "#222", "align": "left", "baseline": "middle"},
            "encoding": {"x": {"datum": -0.0872, "type": "quantitative"}, "y": {"datum": -0.198, "type": "quantitative"}, "text": {"field": "eq"}}},
           {"mark": {"type": "text", "fontSize": 13, "color": "#707070", "align": "left", "baseline": "middle"},
            "encoding": {"x": {"datum": -0.0872, "type": "quantitative"}, "y": {"datum": -0.263, "type": "quantitative"}, "text": {"value": "EI:"}}},
           {"mark": {"type": "text", "fontSize": 13, "fontWeight": "bold", "color": "#111", "align": "left", "baseline": "middle", "dx": 19},
            "encoding": {"x": {"datum": -0.0872, "type": "quantitative"}, "y": {"datum": -0.263, "type": "quantitative"}, "text": {"field": "ei"}}},
           {"mark": {"type": "text", "fontSize": 13, "color": "#707070", "align": "left", "baseline": "middle", "dx": 67},
            "encoding": {"x": {"datum": -0.0872, "type": "quantitative"}, "y": {"datum": -0.263, "type": "quantitative"}, "text": {"field": "mid"}}},
           {"mark": {"type": "text", "fontSize": 13, "fontWeight": "bold", "color": "#111", "align": "left", "baseline": "middle", "dx": 384},
            "encoding": {"x": {"datum": -0.0872, "type": "quantitative"}, "y": {"datum": -0.263, "type": "quantitative"}, "text": {"field": "r2"}}}
         ]}
      ]
    }
  ],
  "config": {
    "font": "Inter",
    "view": {"stroke": null},
    "axis": {
      "domainColor": "#5a5a5a", "domainWidth": 1.5, "ticks": false,
      "labelFontSize": 13, "labelColor": "#333", "labelFont": "Inter",
      "titleFontSize": 15, "titleFontWeight": "normal", "titleColor": "#333", "titleFont": "Inter",
      "gridColor": "#000", "gridOpacity": 0.06
    },
    "axisX": {"labelPadding": 3, "titlePadding": 12, "labelFlush": false},
    "axisY": {"labelPadding": 2, "titlePadding": -3}
  }
}
